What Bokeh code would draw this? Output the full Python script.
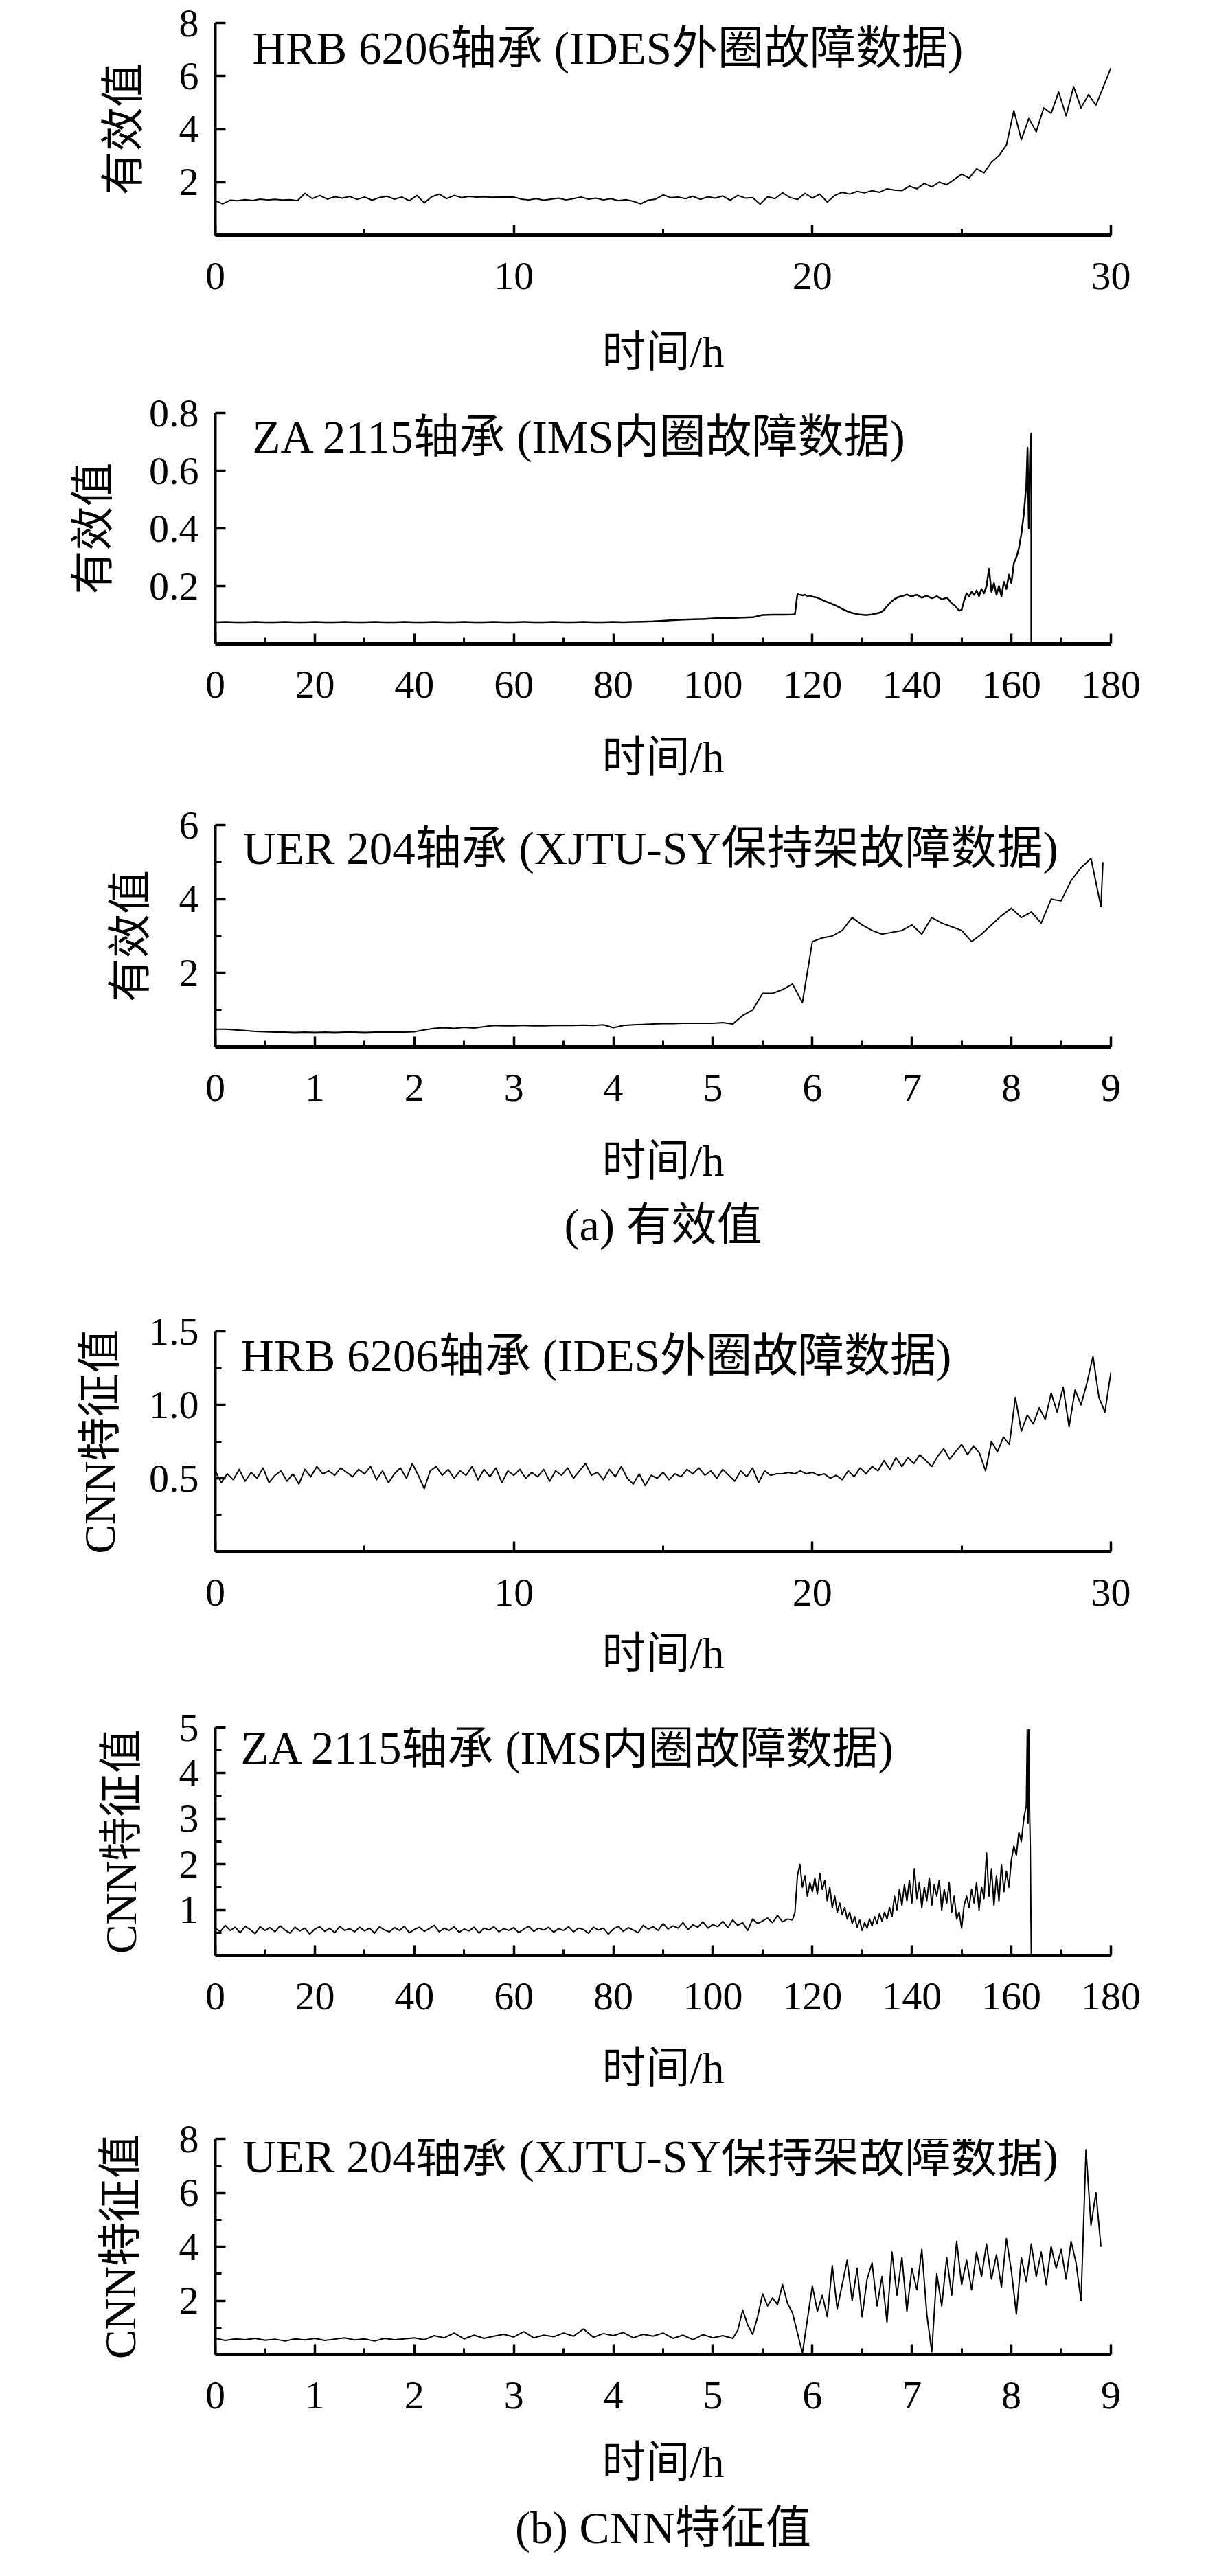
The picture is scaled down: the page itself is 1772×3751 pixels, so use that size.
import numpy as np
from bokeh.plotting import figure
from bokeh.layouts import column
from bokeh.models import Range1d, FixedTicker, NumeralTickFormatter, Label, Title
from bokeh.embed import file_html
from bokeh.resources import INLINE

# ---------------- data ----------------
# (a) RMS, HRB 6206 (IDES outer race), 0.25 h sampling from 0 h
rms_hrb_step = 0.25
rms_hrb = [1.30, 1.18, 1.32, 1.30, 1.34,
           1.31, 1.36, 1.33, 1.35, 1.33, 1.34, 1.30, 1.58, 1.38, 1.50, 1.36, 1.45,
           1.40, 1.46, 1.35, 1.44, 1.32, 1.42, 1.47, 1.36, 1.44, 1.30, 1.50, 1.22,
           1.45, 1.55, 1.38, 1.50, 1.42, 1.46, 1.44, 1.45, 1.43, 1.44, 1.44, 1.44,
           1.36, 1.33, 1.38, 1.32, 1.36, 1.40, 1.33, 1.38, 1.44, 1.36, 1.40, 1.33,
           1.38, 1.30, 1.34, 1.28, 1.18, 1.32, 1.36, 1.52, 1.42, 1.44, 1.38, 1.47,
           1.35, 1.45, 1.40, 1.48, 1.32, 1.50, 1.40, 1.42, 1.17, 1.45, 1.38, 1.60,
           1.42, 1.35, 1.58, 1.40, 1.55, 1.25, 1.50, 1.62, 1.55, 1.65, 1.60, 1.68,
           1.62, 1.75, 1.70, 1.68, 1.85, 1.75, 1.95, 1.82, 2.00, 1.90, 2.10, 2.30,
           2.15, 2.50, 2.35, 2.75, 3.00, 3.40, 4.70, 3.60, 4.40, 3.90, 4.80, 4.60,
           5.40, 4.50, 5.60, 4.80, 5.30, 4.90, 5.60, 6.30]

# (a) RMS, ZA 2115 (IMS inner race): 2 h sampling 0-114 h, then 0.5 h from 116 h
rms_ims_a_step = 2.0
rms_ims_a = [0.075, 0.076, 0.075, 0.075, 0.076, 0.075, 0.075, 0.076, 0.075, 0.075,
             0.076, 0.075, 0.075, 0.076, 0.075, 0.075, 0.076, 0.075, 0.075, 0.076,
             0.075, 0.075, 0.076, 0.075, 0.075, 0.076, 0.075, 0.075, 0.076, 0.075,
             0.075, 0.076, 0.075, 0.075, 0.076, 0.075, 0.075, 0.076, 0.075, 0.075,
             0.076, 0.075, 0.076, 0.077, 0.078,
             0.080, 0.082, 0.084, 0.085, 0.086,
             0.088, 0.089, 0.090, 0.091, 0.092,
             0.100, 0.101, 0.101]
rms_ims_b_start = 116.0
rms_ims_b_step = 0.5
rms_ims_b = [0.102, 0.103, 0.172, 0.170, 0.168, 0.170, 0.166, 0.167, 0.164, 0.162,
             0.160, 0.156, 0.152, 0.148, 0.145, 0.142, 0.138, 0.134, 0.130, 0.126,
             0.121, 0.117, 0.113, 0.110, 0.107, 0.105, 0.103, 0.102, 0.101, 0.100,
             0.100, 0.101, 0.102, 0.104, 0.106, 0.108, 0.112, 0.120, 0.130, 0.140,
             0.148, 0.155, 0.160, 0.163, 0.166, 0.168, 0.171, 0.167,
             0.164, 0.168, 0.170, 0.165, 0.160, 0.163, 0.166, 0.162, 0.158, 0.161,
             0.165, 0.160, 0.154, 0.157, 0.160, 0.152, 0.140, 0.135, 0.125, 0.115,
             0.118, 0.150, 0.175, 0.165, 0.180, 0.170, 0.185, 0.165, 0.190, 0.175,
             0.200, 0.260, 0.180, 0.210, 0.170, 0.200, 0.165, 0.215, 0.190, 0.240,
             0.210, 0.280, 0.300, 0.330, 0.380, 0.450, 0.550]
rms_ims_tail_t = [163.25, 163.5, 163.75, 164.0, 164.0]
rms_ims_tail = [0.68, 0.40, 0.66, 0.73, 0.0]

# (a) RMS, UER 204 (XJTU-SY cage), 0.1 h sampling
rms_xjtu_step = 0.1
rms_xjtu = [0.48, 0.48, 0.46, 0.44, 0.42, 0.41, 0.40, 0.40, 0.39, 0.40,
            0.39, 0.40, 0.39, 0.40, 0.40, 0.39, 0.40, 0.40, 0.40, 0.40,
            0.41, 0.46, 0.50, 0.52, 0.50, 0.53, 0.51, 0.55, 0.58, 0.57,
            0.57, 0.58, 0.57, 0.57, 0.58, 0.58, 0.58, 0.59, 0.58, 0.60,
            0.52, 0.58, 0.60, 0.61, 0.62, 0.63, 0.63, 0.64, 0.64, 0.64,
            0.64, 0.66, 0.62, 0.85, 1.00, 1.45, 1.45, 1.55, 1.70, 1.20,
            2.85, 2.95, 3.00, 3.15, 3.50, 3.30, 3.15, 3.05, 3.10, 3.15,
            3.30, 3.05, 3.50, 3.35, 3.25, 3.15, 2.85, 3.05, 3.30, 3.55,
            3.75, 3.50, 3.65, 3.35, 4.00, 3.95, 4.50, 4.85, 5.10, 3.80]
rms_xjtu_tail_t = [8.92]
rms_xjtu_tail = [5.00]

# (b) CNN feature, HRB 6206, 0.2 h sampling
cnn_hrb_step = 0.2
cnn_hrb = [0.55, 0.47, 0.53, 0.49, 0.56, 0.48, 0.54, 0.50, 0.57, 0.47,
           0.52, 0.55, 0.48, 0.53, 0.46, 0.56, 0.51, 0.58, 0.53, 0.55,
           0.52, 0.57, 0.54, 0.51, 0.56, 0.53, 0.58, 0.49, 0.55, 0.47,
           0.53, 0.57, 0.50, 0.60, 0.52, 0.43, 0.55, 0.58, 0.52, 0.56,
           0.50, 0.55, 0.52, 0.58, 0.49, 0.56, 0.51, 0.57, 0.47, 0.55,
           0.52, 0.56, 0.50, 0.54, 0.51, 0.56, 0.48, 0.55, 0.52, 0.57,
           0.50, 0.55, 0.60, 0.52, 0.54, 0.49, 0.56, 0.51, 0.58, 0.50,
           0.46, 0.53, 0.45, 0.52, 0.50, 0.54, 0.49, 0.53, 0.51, 0.56,
           0.53, 0.57, 0.52, 0.55, 0.50, 0.56, 0.52, 0.48, 0.55, 0.51,
           0.57, 0.47, 0.55, 0.52, 0.53, 0.53, 0.54, 0.53, 0.55, 0.53,
           0.54, 0.52, 0.53, 0.50, 0.52, 0.49, 0.55, 0.51, 0.57, 0.53,
           0.58, 0.55, 0.62, 0.56, 0.64, 0.58, 0.64, 0.60, 0.66, 0.62,
           0.58, 0.65, 0.70, 0.63, 0.68, 0.73, 0.66, 0.72, 0.67, 0.55,
           0.75, 0.68, 0.78, 0.73, 1.05, 0.82, 0.93, 0.87, 0.98, 0.90,
           1.08, 0.95, 1.12, 0.85, 1.10, 1.00, 1.15, 1.33, 1.05, 0.95,
           1.22]

# (b) CNN feature, ZA 2115: 1 h sampling 0-115 h, then 0.5 h from 116 h
cnn_ims_a_step = 1.0
cnn_ims_a = [0.60, 0.52, 0.66, 0.55, 0.62, 0.50, 0.64, 0.57, 0.48, 0.63,
             0.55, 0.61, 0.52, 0.65, 0.56, 0.49, 0.62, 0.54, 0.60, 0.47,
             0.58, 0.63, 0.53, 0.60, 0.50, 0.64, 0.55, 0.59, 0.52, 0.62,
             0.54, 0.60, 0.49, 0.63, 0.56, 0.52, 0.61, 0.55, 0.64, 0.50,
             0.57, 0.62, 0.53, 0.59, 0.66, 0.52, 0.60, 0.55, 0.63, 0.51,
             0.58, 0.54, 0.62, 0.49, 0.60, 0.56, 0.63, 0.52, 0.59, 0.55,
             0.61, 0.50, 0.58, 0.64, 0.53, 0.60, 0.56, 0.62, 0.51, 0.59,
             0.55, 0.63, 0.52, 0.60, 0.57, 0.49, 0.62, 0.56, 0.60, 0.47,
             0.58, 0.64, 0.53, 0.61, 0.56, 0.50, 0.66, 0.58, 0.63, 0.55,
             0.70, 0.58, 0.65, 0.60, 0.72, 0.57, 0.67, 0.62, 0.74, 0.60,
             0.68, 0.63, 0.75, 0.61, 0.78, 0.66, 0.72, 0.55, 0.80, 0.70,
             0.76, 0.82, 0.72, 0.88, 0.74, 0.80]
cnn_ims_b_start = 116.0
cnn_ims_b_step = 0.5
cnn_ims_b = [0.78, 0.95, 1.75, 2.00, 1.50, 1.75, 1.30, 1.60, 1.40, 1.70,
             1.35, 1.80, 1.45, 1.65, 1.20, 1.50, 1.05, 1.30, 0.95, 1.15,
             0.90, 1.05, 0.80, 0.95, 0.70, 0.85, 0.62, 0.78, 0.55, 0.72,
             0.60, 0.80, 0.65, 0.85, 0.70, 0.92, 0.75, 0.95, 0.80, 1.05,
             0.85, 1.30, 1.00, 1.45, 1.10, 1.55, 1.20, 1.65,
             1.15, 1.90, 1.25, 1.60, 1.05, 1.50, 1.20, 1.70, 1.10, 1.55,
             1.30, 1.65, 1.00, 1.45, 1.15, 1.60, 0.95, 1.30, 0.80, 0.95,
             0.60, 1.10, 1.30, 1.05, 1.45, 1.15, 1.60, 1.00, 1.50, 1.25,
             2.25, 1.30, 1.90, 1.10, 1.75, 1.20, 2.00, 1.40, 1.85, 1.50,
             2.10, 2.40, 2.20, 2.70, 2.50, 3.00, 3.30]
cnn_ims_tail_t = [163.2, 163.35, 163.5, 163.65, 163.8, 164.0]
cnn_ims_tail = [4.95, 2.90, 4.95, 3.20, 2.40, 0.0]

# (b) CNN feature, UER 204: 0.1 h sampling 0-5.2 h, then 0.05 h from 5.25 h
cnn_xjtu_a_step = 0.1
cnn_xjtu_a = [0.60, 0.52, 0.58, 0.55, 0.60, 0.53, 0.57, 0.50, 0.58, 0.54,
              0.60, 0.52, 0.57, 0.62, 0.54, 0.58, 0.50, 0.60, 0.55, 0.58,
              0.62, 0.55, 0.70, 0.62, 0.80, 0.58, 0.72, 0.60, 0.68, 0.75,
              0.65, 0.85, 0.62, 0.72, 0.66, 0.80, 0.68, 0.95, 0.64, 0.78,
              0.70, 0.82, 0.62, 0.75, 0.68, 0.80, 0.60, 0.72, 0.55, 0.74,
              0.62, 0.70, 0.60]
cnn_xjtu_b_start = 5.25
cnn_xjtu_b_step = 0.05
cnn_xjtu_b = [0.90, 1.65, 1.10, 0.75, 1.40, 2.25, 1.80, 2.10, 1.85, 2.60,
              1.90, 1.55, 0.80, 0.05, 1.30,
              2.55, 1.60, 2.20, 1.40, 3.30, 1.70, 2.60, 3.50, 2.00, 3.20, 1.40,
              2.80, 3.40, 1.80, 2.90, 1.20, 3.80, 2.20, 3.60, 1.60, 3.20,
              2.40, 3.90, 1.50, 0.10, 3.00, 1.80, 3.60, 2.20, 4.20, 2.60,
              3.50, 2.40, 3.80, 2.90, 4.10, 2.80, 3.70, 2.50, 4.30, 3.10,
              1.50, 3.60, 2.70, 4.10, 2.90, 3.80, 2.60, 4.00, 3.20, 3.90,
              2.80, 4.20, 3.40, 2.00, 7.60, 4.80, 6.00, 4.00]

# ticks
x_ticks_30, x_minor_30 = [0, 10, 20, 30], [5, 15, 25]
x_ticks_180 = [0, 20, 40, 60, 80, 100, 120, 140, 160, 180]
x_minor_180 = [10, 30, 50, 70, 90, 110, 130, 150, 170]
x_ticks_9 = [0, 1, 2, 3, 4, 5, 6, 7, 8, 9]
x_minor_9 = [0.5, 1.5, 2.5, 3.5, 4.5, 5.5, 6.5, 7.5, 8.5]

titles = ["HRB 6206轴承 (IDES外圈故障数据)",
          "ZA 2115轴承 (IMS内圈故障数据)",
          "UER 204轴承 (XJTU-SY保持架故障数据)"]
x_title = "时间/h"
y_title_a = "有效值"
y_title_b = "CNN特征值"
captions = ["(a) 有效值", "(b) CNN特征值"]


def grid(start, step, vals):
    return (start + step * np.arange(len(vals))).tolist()


LAT = "Liberation Serif"
MIX = "Liberation Serif, Noto Sans CJK SC"
FW = 1756
LB, RB = 313, 139


def panel(height, top, frame_h, xmax, xt, xm, ymax, yt, ym, yfmt, ylabel, title,
          title_x, title_dy, ylab_so, xlab_so, series, caption=None, cap_so=10,
          lw=2.0):
    p = figure(width=FW, height=height, x_range=Range1d(0, xmax),
               y_range=Range1d(0, ymax), output_backend="svg",
               toolbar_location=None, min_border_left=LB, min_border_right=RB,
               min_border_top=top, min_border_bottom=height - top - frame_h,
               x_axis_label=x_title, y_axis_label=ylabel)
    p.outline_line_color = None
    p.grid.visible = False
    p.background_fill_color = "white"
    p.border_fill_color = "white"
    p.xaxis.ticker = FixedTicker(ticks=xt, minor_ticks=xm)
    p.yaxis.ticker = FixedTicker(ticks=yt, minor_ticks=ym)
    p.xaxis.formatter = NumeralTickFormatter(format="0")
    p.yaxis.formatter = NumeralTickFormatter(format=yfmt)
    for ax in (p.xaxis[0], p.yaxis[0]):
        ax.axis_line_color = "black"
        ax.major_tick_in = 15
        ax.major_tick_out = 0
        ax.minor_tick_in = 9
        ax.minor_tick_out = 0
        ax.major_tick_line_width = 3.5
        ax.minor_tick_line_width = 3
        ax.major_label_text_font = LAT
        ax.major_label_text_font_size = "58px"
        ax.major_label_text_color = "black"
        ax.axis_label_text_font = MIX
        ax.axis_label_text_font_size = "64px"
        ax.axis_label_text_font_style = "normal"
        ax.axis_label_text_color = "black"
    p.xaxis.axis_line_width = 5
    p.yaxis.axis_line_width = 4
    p.xaxis.major_label_standoff = 40
    p.yaxis.major_label_standoff = 24
    p.xaxis.axis_label_standoff = xlab_so
    p.yaxis.axis_label_standoff = ylab_so
    for t, v in series:
        p.line(t, v, line_color="black", line_width=lw, line_join="round")
    p.add_layout(Label(x=title_x, y=frame_h - title_dy, x_units="screen",
                       y_units="screen", text=title, text_font=MIX,
                       text_font_size="67px", text_baseline="middle",
                       text_color="black"))
    if caption:
        p.add_layout(Title(text=caption, align="center", text_font=MIX,
                           text_font_size="66px", text_font_style="normal",
                           text_color="black", standoff=cap_so), "below")
    return p


p1 = panel(552, 33, 309, 30, x_ticks_30, x_minor_30, 8, [2, 4, 6, 8], [], "0",
           y_title_a, titles[0], 54, 36, 43, 53,
           [(grid(0, rms_hrb_step, rms_hrb), rms_hrb)])
p2 = panel(600, 49, 336, 180, x_ticks_180, x_minor_180, 0.8, [0.2, 0.4, 0.6, 0.8], [],
           "0.0", y_title_a, titles[1], 54, 34, 43, 48,
           [(grid(0, rms_ims_a_step, rms_ims_a) + grid(rms_ims_b_start, rms_ims_b_step, rms_ims_b) + rms_ims_tail_t,
             rms_ims_a + rms_ims_b + rms_ims_tail)], lw=2.5)
p3 = panel(700, 49, 323, 9, x_ticks_9, x_minor_9, 6, [2, 4, 6], [1, 3, 5], "0",
           y_title_a, titles[2], 40, 33, 33, 49,
           [(grid(0, rms_xjtu_step, rms_xjtu) + rms_xjtu_tail_t, rms_xjtu + rms_xjtu_tail)],
           caption=captions[0], cap_so=32)
p4 = panel(600, 86, 321, 30, x_ticks_30, x_minor_30, 1.5, [0.5, 1.0, 1.5],
           [0.25, 0.75, 1.25], "0.0", y_title_b, titles[0], 37, 35, 33, 31,
           [(grid(0, cnn_hrb_step, cnn_hrb), cnn_hrb)])
p5 = panel(600, 63, 332, 180, x_ticks_180, x_minor_180, 5, [1, 2, 3, 4, 5],
           [0.5, 1.5, 2.5, 3.5, 4.5], "0", y_title_b, titles[1], 37, 29, 46, 47,
           [(grid(0, cnn_ims_a_step, cnn_ims_a) + grid(cnn_ims_b_start, cnn_ims_b_step, cnn_ims_b) + cnn_ims_tail_t,
             cnn_ims_a + cnn_ims_b + cnn_ims_tail)])
p6 = panel(683, 62, 321, 9, x_ticks_9, x_minor_9, 8, [2, 4, 6, 8], [1, 3, 5, 7], "0",
           y_title_b, titles[2], 40, 32, 47, 40,
           [(grid(0, cnn_xjtu_a_step, cnn_xjtu_a) + grid(cnn_xjtu_b_start, cnn_xjtu_b_step, cnn_xjtu_b),
             cnn_xjtu_a + cnn_xjtu_b)],
           caption=captions[1], cap_so=37)

layout = column(p1, p2, p3, p4, p5, p6, spacing=0)
open("out.html", "w").write(file_html(layout, INLINE))
